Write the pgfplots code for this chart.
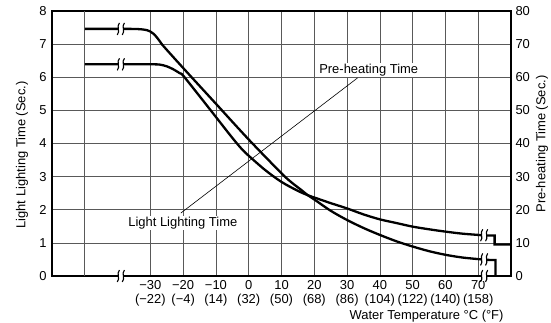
\documentclass[border=0pt]{standalone}
\usepackage{fontspec}
\setmainfont{Liberation Sans}
\usepackage{pgfplots}
\pgfplotsset{compat=1.18}
\usetikzlibrary{calc}

\newcommand{\brk}[1]{%
  \fill[white] ($(#1)+(-2.6bp,-4.5bp)$) rectangle ($(#1)+(2.6bp,4.5bp)$);
  \draw[line width=1.1bp] ($(#1)+(-3.6bp,-6bp)$) .. controls ($(#1)+(-0.2bp,-2.5bp)$) and ($(#1)+(-4.8bp,2.5bp)$) .. ($(#1)+(-1.4bp,6bp)$);
  \draw[line width=1.1bp] ($(#1)+(1.4bp,-6bp)$) .. controls ($(#1)+(4.8bp,-2.5bp)$) and ($(#1)+(0.2bp,2.5bp)$) .. ($(#1)+(3.6bp,6bp)$);
}

\begin{document}
\begin{tikzpicture}[font=\fontsize{13}{15}\selectfont]
\begin{axis}[
  scale only axis, width=459bp, height=265bp,
  xmin=-60, xmax=80, ymin=0, ymax=8,
  xtick={-30,-20,...,70},
  xticklabels={{−30\\(−22)},{−20\\(−4)},{−10\\(14)},{0\\(32)},{10\\(50)},{20\\(68)},{30\\(86)},{40\\(104)},{50\\(122)},{60\\(140)},{70\\(158)}},
  extra x ticks={-50}, extra x tick labels={},
  extra x tick style={grid=major, major grid style={black!65, line width=0.6bp}},
  ytick={0,...,8},
  grid=major, major grid style={black!65, line width=0.6bp},
  axis line style={line width=1.2bp},
  tick style={draw=none},
  /pgf/number format/assume math mode=true,
  xticklabel style={align=center, font=\fontsize{13}{13.5}\selectfont, yshift=-1bp},
  yticklabel style={xshift=-2bp},
  clip=false,
]
% Curve starting at 7.5
\addplot[line width=2.3bp, smooth, tension=0.5] coordinates {
(-50,7.46) (-42,7.46) (-36,7.46) (-33,7.45) (-31,7.42) (-30,7.38) (-29,7.31) (-28,7.2) (-27,7.07) (-26,6.94)
(-20,6.28) (-10,5.2) (0,4.12) (10,3.1) (13,2.83) (16,2.6) (18,2.44) (20,2.31) (25,1.97) (30,1.69)
(35,1.45) (40,1.24) (45,1.05) (50,0.89) (55,0.75) (60,0.64) (65,0.56) (70,0.51)};
\addplot[line width=2.3bp, line join=miter] coordinates {(70,0.51) (72,0.49) (75.3,0.48) (75.3,0)};
% Curve starting at 6.4
\addplot[line width=2.3bp, smooth, tension=0.5] coordinates {
(-50,6.39) (-36,6.39) (-29,6.39) (-27,6.38) (-25,6.33) (-23,6.24) (-21,6.12) (-20,6.05) (-15,5.43)
(-10,4.8) (-5,4.17) (-2,3.82) (0,3.63) (5,3.2) (10,2.84) (15,2.57) (18,2.44) (20,2.37) (25,2.2)
(30,2.04) (35,1.86) (40,1.71) (45,1.6) (50,1.49) (55,1.41) (60,1.34) (65,1.28) (70,1.24)};
\addplot[line width=2.3bp, line join=miter] coordinates {(70,1.24) (72,1.22) (75,1.22) (75,0.95) (80,0.95)};
% leader line and labels
\draw[line width=0.6bp] (axis cs:-20.7,1.9) -- (axis cs:33.2,5.98);
\node[fill=white, inner sep=1bp] at (axis cs:36.6,6.22) {Pre-heating Time};
\node[fill=white, inner sep=1bp] at (axis cs:-20.1,1.6) {Light Lighting Time};
% break locations
\coordinate (b1) at (axis cs:-39,7.46);
\coordinate (b2) at (axis cs:-39,6.39);
\coordinate (b3) at (axis cs:-39,0);
\coordinate (b4) at (axis cs:71.8,1.23);
\coordinate (b5) at (axis cs:71.8,0.5);
\coordinate (b6) at (axis cs:71.8,0);
\coordinate (SW) at (rel axis cs:0,0);
\coordinate (NE) at (rel axis cs:1,1);
\coordinate (SE) at (rel axis cs:1,0);
\end{axis}
\begin{axis}[
  scale only axis, width=459bp, height=265bp,
  xmin=-60, xmax=80, ymin=0, ymax=80,
  axis y line*=right, hide x axis,
  ytick={0,10,...,80},
  axis line style={line width=1.2bp},
  tick style={draw=none},
  /pgf/number format/assume math mode=true,
  yticklabel style={xshift=1bp},
]
\end{axis}
\brk{b1}\brk{b2}\brk{b3}\brk{b4}\brk{b5}\brk{b6}
\node[anchor=east] at ($(SE)+(-4bp,-40bp)$) {Water Temperature °C (°F)};
\node[rotate=90] at ($(SW)+(-30bp,121bp)$) {Light Lighting Time (Sec.)};
\node[rotate=90] at ($(SE)+(31bp,132bp)$) {Pre-heating Time (Sec.)};
\pgfresetboundingbox
\path[use as bounding box] ($(SW)+(-52bp,-47bp)$) rectangle ($(NE)+(40bp,11bp)$);
\end{tikzpicture}
\end{document}
